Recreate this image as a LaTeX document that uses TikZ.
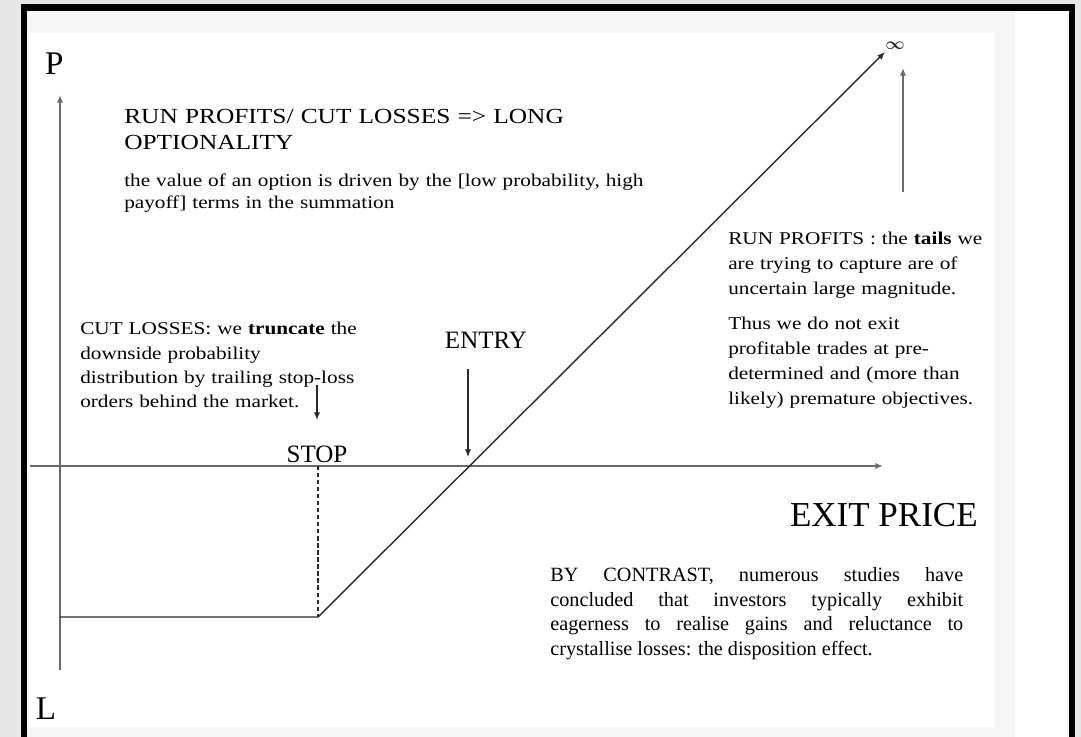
\documentclass[tikz,border=0pt]{standalone}
\usepackage{fontspec}
\setmainfont{Liberation Serif}
\newfontfamily\palafont[FakeStretch=1.18]{Liberation Serif}
\usepackage{tikz}
\usetikzlibrary{arrows.meta, positioning}
\usepackage{xcolor}
\definecolor{bggrey}{HTML}{E6E6E6}
\definecolor{panelgrey}{HTML}{F6F6F6}
\definecolor{axisgrey}{HTML}{6A6A6A}
\definecolor{inkgrey}{HTML}{2A2A2A}

\begin{document}
\begin{tikzpicture}[
        >={Latex[length=5.5pt,width=4.5pt]},
        axis/.style={draw=axisgrey, line width=1.3pt},
        payoff/.style={draw=inkgrey, line width=1pt},
        pointer/.style={draw=inkgrey, line width=0.9pt, ->},
        axlabel/.style={inner sep=0pt, font=\fontsize{17.8}{20}\selectfont},
        notetext/.style={inner sep=0pt, anchor=base west, align=left, text width=8cm,
          font=\palafont\fontsize{12.8}{17.4}\selectfont}
      ]

      % Background and frame
      \useasboundingbox (-1.5,-6.775) rectangle (25.525,11.65);
      \fill[bggrey] (-1.5,-6.775) rectangle (25.525,11.65);
      \fill[panelgrey] (-0.9,-6.775) rectangle (25.3,11.4625);
      \fill[white] (-0.825,-6.525) rectangle (23.375,10.825);
      \fill[white] (23.875,-6.775) rectangle (25.225,11.375);
      \draw[line width=4.3pt, line join=miter] (-0.9,-6.9) -- (-0.9,11.4625) -- (25.3,11.4625) -- (25.3,-6.9);

      % Axes
      \coordinate (Lbot) at (0,-5.1);
      \coordinate (Ptop) at (0,9.275);
      \coordinate (Xleft) at (-0.75,0);
      \coordinate (Xright) at (20.575,0);
      \draw[axis, ->] (Lbot) -- (Ptop);
      \draw[axis, ->] (Xleft) -- (Xright);

      \node[axlabel, font=\fontsize{23.5}{26}\selectfont] (P) at (-0.14,10.05) {P};
      \node[axlabel, font=\fontsize{23.5}{26}\selectfont] (L) at (-0.35,-6.075) {L};

      % Payoff profile
      \coordinate (floor) at (0,-3.775);
      \coordinate (kink) at (6.45,-3.775);
      \coordinate (stopx) at (6.45,0);
      \coordinate (tail) at (20.625,10.35);
      \draw[payoff, ->] (floor) -- (kink) -- (tail);
      \draw[payoff, line width=0.8pt, dash pattern=on 3pt off 2pt] (stopx) -- (kink);

      \node[inner sep=0pt, text=inkgrey, font=\fontsize{12}{12}\selectfont\boldmath] (inf) at (20.875,10.5) {$\infty$};
      \coordinate (tailbase) at (21.075,6.85);
      \coordinate (tailtip) at (21.075,9.95);
      \draw[axis, ->] (tailbase) -- (tailtip);

      % Stop and entry
      \node[axlabel, anchor=base] (STOP) at (6.425,0.075) {STOP};
      \coordinate (stoptop) at (6.425,2.025);
      \coordinate (stopend) at (6.425,1.15);
      \draw[pointer] (stoptop) -- (stopend);

      \node[axlabel, anchor=base] (ENTRY) at (10.65,2.925) {ENTRY};
      \coordinate (entrytop) at (10.2,2.425);
      \coordinate (entryend) at (10.2,0.225);
      \draw[pointer] (entrytop) -- (entryend);

      \node[axlabel, anchor=base east, font=\fontsize{24.9}{28}\selectfont] (EXIT) at (22.95,-1.525) {EXIT PRICE};

      % Notes
      \node[notetext, text width=14cm, font=\palafont\fontsize{15.3}{17.8}\selectfont] (title) at (1.6,8.55)
        {RUN PROFITS/ CUT LOSSES => LONG\\OPTIONALITY};
      \node[notetext, text width=16cm, font=\palafont\fontsize{12.8}{15.6}\selectfont] (value) at (1.6,6.975)
        {the value of an option is driven by the [low probability, high\\payoff] terms in the summation};
      \node[notetext, font=\palafont\fontsize{12.8}{17.1}\selectfont] (cut) at (0.5,3.275)
        {CUT LOSSES: we \textbf{truncate} the\\downside probability\\distribution by trailing stop-loss\\orders behind the market.};
      \node[notetext, font=\palafont\fontsize{12.8}{17.6}\selectfont] (run) at (16.7,5.525)
        {RUN PROFITS : the \textbf{tails} we\\are trying to capture are of\\uncertain large magnitude.};
      \node[notetext, font=\palafont\fontsize{12.8}{17.6}\selectfont] (thus) at (16.7,3.4)
        {Thus we do not exit\\profitable trades at pre-\\determined and (more than\\likely) premature objectives.};
      \node[notetext, align=justify, text width=10.325cm, font=\fontsize{14.4}{17.4}\selectfont] (contrast) at (12.25,-2.9)
        {BY CONTRAST, numerous studies have\linebreak concluded that investors typically exhibit\linebreak eagerness to realise gains and reluctance to\linebreak crystallise losses: the disposition effect.};

    \end{tikzpicture}
\end{document}
